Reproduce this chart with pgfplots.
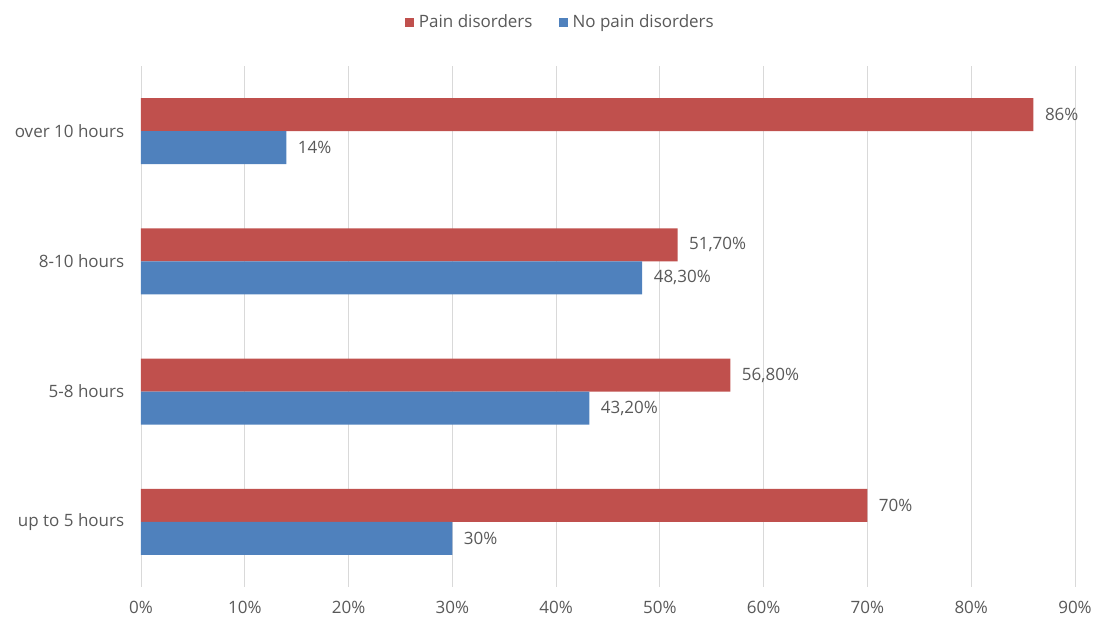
\documentclass[border=0pt]{standalone}
\usepackage{pgfplots}
\pgfplotsset{compat=1.18}
\usepackage{fontspec}
\setmainfont{Open Sans}
\definecolor{painred}{HTML}{C0504D}
\definecolor{nopainblue}{HTML}{4F81BD}
\definecolor{labelgray}{HTML}{595959}
\definecolor{gridgray}{HTML}{D9D9D9}

\begin{document}
\begin{tikzpicture}
\useasboundingbox (0,0) rectangle (1098pt,624pt);
\begin{axis}[
  at={(141pt,37pt)}, anchor=south west,
  scale only axis, width=934pt, height=521pt,
  xbar, bar width=33pt,
  xmin=0, xmax=90, ymin=-0.5, ymax=3.5,
  axis line style={draw=none},
  xmajorgrids, major grid style={gridgray, line width=0.9pt},
  xtick={0,10,...,90},
  xticklabels={0\%,10\%,20\%,30\%,40\%,50\%,60\%,70\%,80\%,90\%},
  ytick={0,1,2,3},
  yticklabels={up to 5 hours,5-8 hours,8-10 hours,over 10 hours},
  tick style={draw=none},
  ticklabel style={font=\fontsize{17}{20}\selectfont, text=labelgray},
  xticklabel style={yshift=-11pt},
  yticklabel style={xshift=-9pt},
  point meta=explicit symbolic,
  nodes near coords,
  nodes near coords style={font=\fontsize{17}{20}\selectfont, text=labelgray, anchor=west, xshift=8pt},
  legend style={at={(0.449,1.084)}, anchor=center, draw=none, legend columns=-1,
    font=\fontsize{17}{20}\selectfont, text=labelgray,
    /tikz/every even column/.append style={column sep=24pt}},
  legend image code/.code={\fill[#1] (0pt,-4.5pt) rectangle (9pt,4.5pt); \path (12pt,0pt);},
  clip=false,
]
\addplot[fill=painred, draw=none, bar shift=16.5pt] coordinates {
  (70,0) [70\%]
  (56.8,1) [56,80\%]
  (51.7,2) [51,70\%]
  (86,3) [86\%]
};
\addlegendentry{Pain disorders}
\addplot[fill=nopainblue, draw=none, bar shift=-16.5pt] coordinates {
  (30,0) [30\%]
  (43.2,1) [43,20\%]
  (48.3,2) [48,30\%]
  (14,3) [14\%]
};
\addlegendentry{No pain disorders}
\end{axis}
\end{tikzpicture}
\end{document}
